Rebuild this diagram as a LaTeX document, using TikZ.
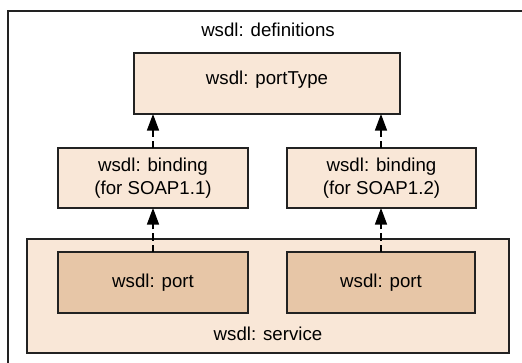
\documentclass[tikz,border=0pt]{standalone}
\usepackage{fontspec}
\setmainfont{Liberation Sans}
\usetikzlibrary{arrows.meta}
\definecolor{paleFill}{HTML}{F9E7D7}
\definecolor{portFill}{HTML}{E7C6A7}
\definecolor{edgeGray}{HTML}{222222}
\begin{document}
\begin{tikzpicture}[x=0.75pt,y=-0.75pt,
  box/.style={draw=edgeGray,line width=1.3pt},
  lbl/.style={font=\fontsize{14}{17}\selectfont,align=center,inner sep=0pt},
  link/.style={line width=1.3pt,dash pattern=on 5.5pt off 3pt,
    -{Triangle[length=12.5pt,width=9pt]}}]
  \useasboundingbox (0,0) rectangle (522,363);
  % outer definitions frame (runs off the right and bottom edges)
  \begin{scope}
    \clip (0,0) rectangle (522,363);
    \draw[box] (8,11) rectangle (540,380);
  \end{scope}
  \node[lbl] (deftitle) at (268,30) {wsdl: definitions};
  % portType
  \draw[box,fill=paleFill] (134,53) rectangle (400,114);
  \coordinate (ptL) at (153,114);
  \coordinate (ptR) at (381,114);
  \node[lbl] (porttype) at (267,80) {wsdl: portType};
  % bindings
  \draw[box,fill=paleFill] (58,148) rectangle (248,208);
  \draw[box,fill=paleFill] (287,148) rectangle (476,208);
  \node[lbl] (bind1) at (153,178) {wsdl: binding\\(for SOAP1.1)};
  \node[lbl] (bind2) at (381.5,178) {wsdl: binding\\(for SOAP1.2)};
  \coordinate (b1top) at (153,148);
  \coordinate (b2top) at (381,148);
  \coordinate (b1bot) at (153,208);
  \coordinate (b2bot) at (381,208);
  % service with its ports
  \draw[box,fill=paleFill] (27,239) rectangle (509,353);
  \draw[box,fill=portFill] (58,252) rectangle (248,313);
  \draw[box,fill=portFill] (287,252) rectangle (475,313);
  \node[lbl] (port1) at (153,283) {wsdl: port};
  \node[lbl] (port2) at (381,283) {wsdl: port};
  \node[lbl] (service) at (268,334) {wsdl: service};
  \coordinate (p1top) at (153,252);
  \coordinate (p2top) at (381,252);
  % references
  \draw[link] (b1top) -- (ptL);
  \draw[link] (b2top) -- (ptR);
  \draw[link] (p1top) -- (b1bot);
  \draw[link] (p2top) -- (b2bot);
\end{tikzpicture}
\end{document}
